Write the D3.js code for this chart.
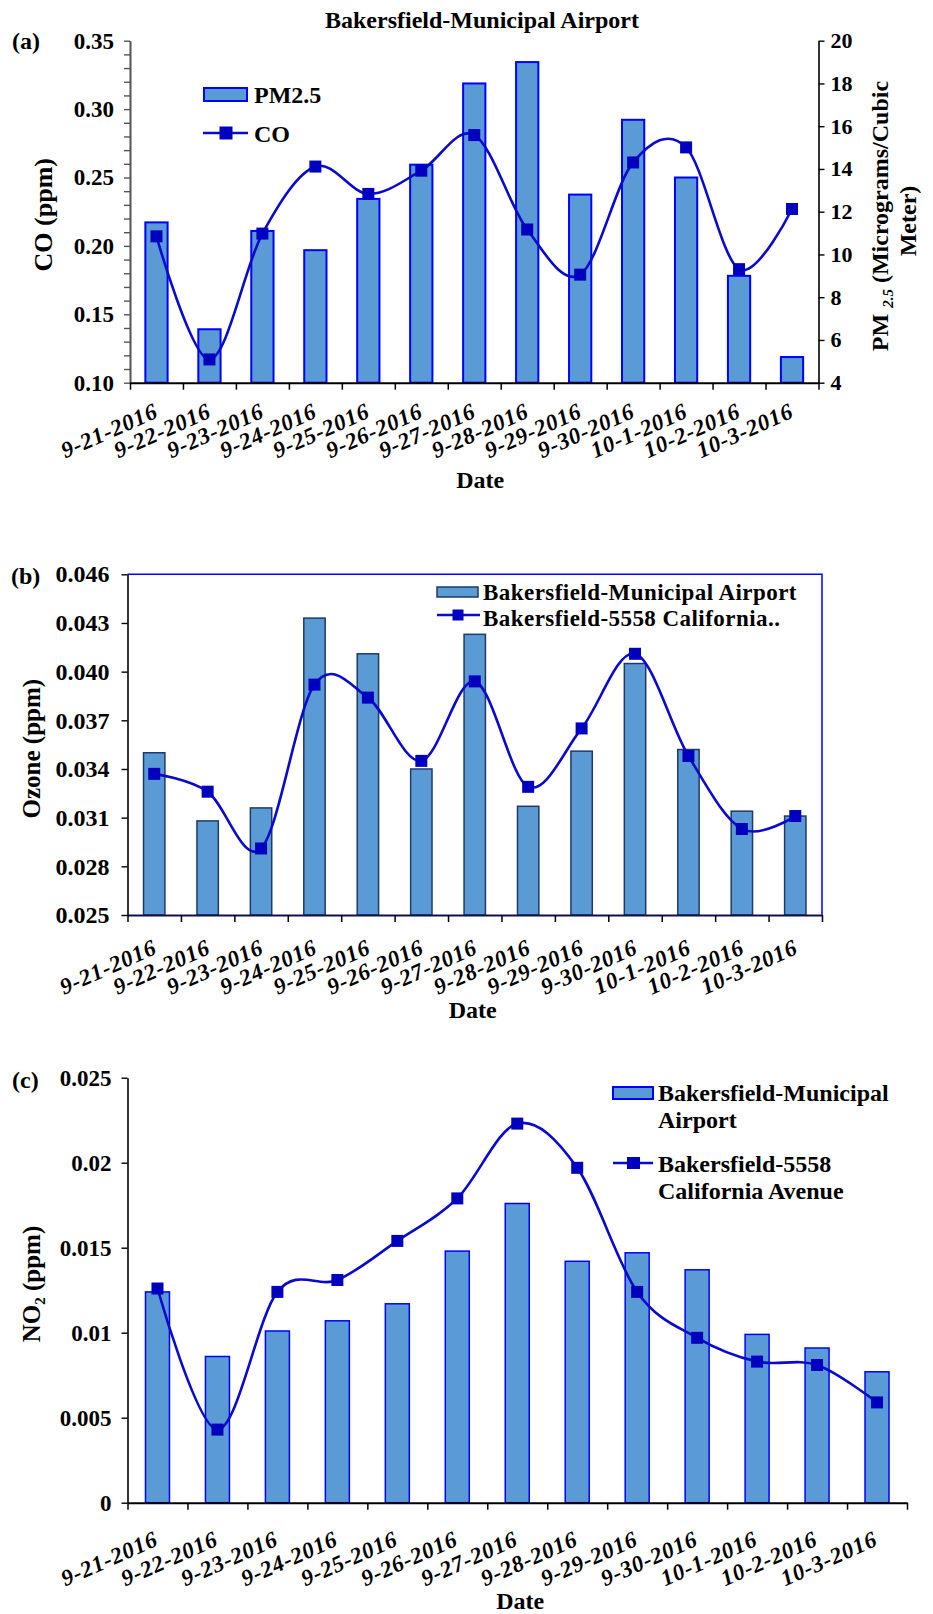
<!DOCTYPE html>
<html>
<head>
<meta charset="utf-8">
<script src="https://cdn.jsdelivr.net/npm/d3@7/dist/d3.min.js"></script>
<style>
  html, body { margin: 0; padding: 0; background: #ffffff; }
  svg { display: block; }
  text { font-family: "Liberation Serif", "Times New Roman", serif; font-weight: bold; fill: #000; }
</style>
</head>
<body>
<svg id="chart" width="933" height="1614"></svg>
<script>
// ---- data ----
const dates = ["9-21-2016", "9-22-2016", "9-23-2016", "9-24-2016", "9-25-2016", "9-26-2016",
  "9-27-2016", "9-28-2016", "9-29-2016", "9-30-2016", "10-1-2016", "10-2-2016", "10-3-2016"];

// (a) Bakersfield-Municipal Airport
const pm25 = [11.5, 6.5, 11.1, 10.2, 12.6, 14.2, 18.0, 19.0, 12.8, 16.3, 13.6, 9.0, 5.2];
const co = [0.207, 0.117, 0.209, 0.258, 0.238, 0.255, 0.281, 0.212, 0.179, 0.261, 0.272, 0.183, 0.227];

// (b) ozone
const ozoneAirport = [0.0350, 0.0308, 0.0316, 0.0433, 0.0411, 0.0340, 0.0423, 0.0317, 0.0351, 0.0405, 0.0352, 0.0314, 0.0311];
const ozoneCalifornia = [0.0337, 0.0326, 0.0291, 0.0392, 0.0384, 0.0345, 0.0394, 0.0329, 0.0365, 0.0411, 0.0348, 0.0303, 0.0311];

// (c) nitrogen dioxide
const no2Airport = [0.0124, 0.0086, 0.0101, 0.0107, 0.0117, 0.0148, 0.0176, 0.0142, 0.0147, 0.0137, 0.0099, 0.0091, 0.0077];
const no2California = [0.0126, 0.0043, 0.0124, 0.0131, 0.0154, 0.0179, 0.0223, 0.0197, 0.0124, 0.0097, 0.0083, 0.0081, 0.0059];

// tick values and labels
const coTicks = [0.10, 0.15, 0.20, 0.25, 0.30, 0.35];
const coTickLabels = ["0.10", "0.15", "0.20", "0.25", "0.30", "0.35"];
const coMinorTicks = [0.11, 0.12, 0.13, 0.14, 0.16, 0.17, 0.18, 0.19, 0.21, 0.22, 0.23, 0.24, 0.26, 0.27, 0.28, 0.29, 0.31, 0.32, 0.33, 0.34];
const pmTicks = [4, 6, 8, 10, 12, 14, 16, 18, 20];
const ozoneTicks = [0.025, 0.028, 0.031, 0.034, 0.037, 0.040, 0.043, 0.046];
const ozoneTickLabels = ["0.025", "0.028", "0.031", "0.034", "0.037", "0.040", "0.043", "0.046"];
const no2Ticks = [0, 0.005, 0.01, 0.015, 0.02, 0.025];
const no2TickLabels = ["0", "0.005", "0.01", "0.015", "0.02", "0.025"];

const names = {
  title: "Bakersfield-Municipal Airport",
  pm: "PM2.5",
  co: "CO",
  airport: "Bakersfield-Municipal Airport",
  california: "Bakersfield-5558 California.."
};

// ---- styles ----
const BAR_FILL = "#5B9BD5";
const LINE_COLOR = "#0A0ACC";
const MARKER_COLOR = "#0000BE";

const svg = d3.select("#chart");
svg.append("rect").attr("width", 933).attr("height", 1614).attr("fill", "#fff");

function xScales(x0, x1) {
  const band = d3.scaleBand().domain(dates).range([x0, x1]).padding(0);
  const edges = d3.scaleLinear().domain([0, dates.length]).range([x0, x1]);
  return { band, edges };
}

function drawBars(g, band, y, values, ratio, stroke, strokeW) {
  const w = band.bandwidth() * ratio;
  g.append("g").selectAll("rect").data(values).join("rect")
    .attr("x", (d, i) => band(dates[i]) + (band.bandwidth() - w) / 2)
    .attr("width", w)
    .attr("y", d => y(d))
    .attr("height", d => y.range()[0] - y(d))
    .attr("fill", BAR_FILL)
    .attr("stroke", stroke)
    .attr("stroke-width", strokeW);
}

function drawLine(g, band, y, values) {
  const cx = i => band(dates[i]) + band.bandwidth() / 2;
  const line = d3.line()
    .x((d, i) => cx(i))
    .y(d => y(d))
    .curve(d3.curveCatmullRom.alpha(0));
  g.append("path").datum(values)
    .attr("d", line)
    .attr("fill", "none")
    .attr("stroke", LINE_COLOR)
    .attr("stroke-width", 2.6);
  const s = 12;
  g.append("g").selectAll("rect").data(values).join("rect")
    .attr("x", (d, i) => cx(i) - s / 2)
    .attr("y", d => y(d) - s / 2)
    .attr("width", s).attr("height", s)
    .attr("fill", MARKER_COLOR);
}

function drawXAxis(g, sc, yBot, labelDy, labelDx, color) {
  const ax = d3.axisBottom(sc.edges)
    .tickValues(d3.range(dates.length + 1))
    .tickFormat("")
    .tickSize(7)
    .tickSizeOuter(0);
  const a = g.append("g").attr("transform", `translate(0,${yBot})`).call(ax);
  a.select(".domain").attr("stroke", color).attr("stroke-width", 2);
  a.selectAll(".tick line").attr("stroke", "#000").attr("stroke-width", 1.5);
  g.append("g").selectAll("text").data(dates).join("text")
    .attr("transform", d => `translate(${sc.band(d) + sc.band.bandwidth() / 2 + labelDx},${yBot + labelDy}) rotate(-24)`)
    .attr("text-anchor", "end")
    .style("font-size", "23px")
    .style("font-style", "italic")
    .style("letter-spacing", "0.8px")
    .text(d => d);
}

function styleYAxis(a, color, size) {
  a.select(".domain").attr("stroke", color).attr("stroke-width", 1.6);
  a.selectAll(".tick line").attr("stroke", color).attr("stroke-width", 1.4);
  a.selectAll(".tick text").style("font-size", (size || 23) + "px").style("font-family", "'Liberation Serif', serif").style("font-weight", "bold").attr("fill", "#000");
}

function rotatedLabel(g, x, y, size) {
  return g.append("text")
    .attr("transform", `translate(${x},${y}) rotate(-90)`)
    .attr("text-anchor", "middle")
    .attr("dy", "0.35em")
    .style("font-size", size + "px");
}

// ================= (a) =================
(function () {
  const x0 = 130, x1 = 818.5, yTop = 40.7, yBot = 382.7;
  const g = svg.append("g");
  const sc = xScales(x0, x1);
  const yL = d3.scaleLinear().domain([0.10, 0.35]).range([yBot, yTop]);
  const yR = d3.scaleLinear().domain([4, 20]).range([yBot, yTop]);

  drawBars(g, sc.band, yR, pm25, 0.42, "#0000FF", 2);
  drawLine(g, sc.band, yL, co);

  const minor = g.append("g").attr("transform", `translate(${x0},0)`)
    .call(d3.axisLeft(yL).tickValues(coMinorTicks).tickFormat("").tickSize(6).tickSizeOuter(0));
  styleYAxis(minor, "#555");
  const left = g.append("g").attr("transform", `translate(${x0},0)`)
    .call(d3.axisLeft(yL).tickValues(coTicks).tickFormat((d, i) => coTickLabels[i]).tickSize(6).tickPadding(10).tickSizeOuter(0));
  styleYAxis(left, "#555");
  const right = g.append("g").attr("transform", `translate(${x1},0)`)
    .call(d3.axisRight(yR).tickValues(pmTicks).tickSize(6).tickPadding(6).tickSizeOuter(0));
  styleYAxis(right, "#000", 22);

  drawXAxis(g, sc, yBot, 34, 3, "#000");

  g.append("text").attr("x", 482).attr("y", 28).attr("text-anchor", "middle")
    .style("font-size", "24px").text(names.title);
  g.append("text").attr("x", 12).attr("y", 49).style("font-size", "24px").text("(a)");

  rotatedLabel(g, 43, (yTop + yBot) / 2 + 3, 26).text("CO (ppm)");
  const r1 = rotatedLabel(g, 880, 216, 24);
  r1.append("tspan").text("PM ");
  r1.append("tspan").style("font-size", "15px").style("font-style", "italic").attr("dy", "5").text("2.5");
  r1.append("tspan").attr("dy", "-5").text(" (Micrograms/Cubic");
  rotatedLabel(g, 908, 221, 24).text("Meter)");

  g.append("text").attr("x", (x0 + x1) / 2 + 6).attr("y", 488).attr("text-anchor", "middle")
    .style("font-size", "24px").text("Date");

  // legend
  const lg = g.append("g");
  lg.append("rect").attr("x", 204).attr("y", 88).attr("width", 43).attr("height", 13)
    .attr("fill", BAR_FILL).attr("stroke", "#0000FF").attr("stroke-width", 2);
  lg.append("text").attr("x", 254).attr("y", 103).style("font-size", "24px").text(names.pm);
  lg.append("line").attr("x1", 203).attr("x2", 248).attr("y1", 133).attr("y2", 133)
    .attr("stroke", LINE_COLOR).attr("stroke-width", 2.6);
  lg.append("rect").attr("x", 219.5).attr("y", 126.5).attr("width", 13).attr("height", 13).attr("fill", MARKER_COLOR);
  lg.append("text").attr("x", 254).attr("y", 142).style("font-size", "24px").text(names.co);
})();

// ================= (b) =================
(function () {
  const x0 = 127.5, x1 = 822, yTop = 574.3, yBot = 915;
  const g = svg.append("g");
  const sc = xScales(x0, x1);
  const y = d3.scaleLinear().domain([0.025, 0.046]).range([yBot, yTop]);

  // plot frame, top and right edges
  g.append("path").attr("d", `M${x0},${yTop}H${x1}V${yBot}`)
    .attr("fill", "none").attr("stroke", "#0000FF").attr("stroke-width", 1.5);

  drawBars(g, sc.band, y, ozoneAirport, 0.40, "#1F3A68", 1.5);
  drawLine(g, sc.band, y, ozoneCalifornia);

  const left = g.append("g").attr("transform", `translate(${x0},0)`)
    .call(d3.axisLeft(y).tickValues(ozoneTicks).tickFormat((d, i) => ozoneTickLabels[i]).tickSize(6).tickPadding(12).tickSizeOuter(0));
  styleYAxis(left, "#000", 24);

  drawXAxis(g, sc, yBot, 38, 4, "#10104A");

  g.append("text").attr("x", 11).attr("y", 584).style("font-size", "24px").text("(b)");
  rotatedLabel(g, 31, (yTop + yBot) / 2 + 4, 25).text("Ozone (ppm)");
  g.append("text").attr("x", (x0 + x1) / 2 - 2).attr("y", 1018).attr("text-anchor", "middle")
    .style("font-size", "24px").text("Date");

  const lg = g.append("g");
  lg.append("rect").attr("x", 437).attr("y", 587).attr("width", 41).attr("height", 10)
    .attr("fill", BAR_FILL).attr("stroke", "#1F3A68").attr("stroke-width", 1.5);
  lg.append("text").attr("x", 483).attr("y", 599.5).style("font-size", "23px").style("letter-spacing", "0.45px").text(names.airport);
  lg.append("line").attr("x1", 437).attr("x2", 480).attr("y1", 615).attr("y2", 615)
    .attr("stroke", LINE_COLOR).attr("stroke-width", 2.6);
  lg.append("rect").attr("x", 452.5).attr("y", 609.5).attr("width", 11).attr("height", 11).attr("fill", MARKER_COLOR);
  lg.append("text").attr("x", 483).attr("y", 625.5).style("font-size", "23px").style("letter-spacing", "0.45px").text(names.california);
})();

// ================= (c) =================
(function () {
  const x0 = 127.5, x1 = 907, yTop = 1077.7, yBot = 1502.7;
  const g = svg.append("g");
  const sc = xScales(x0, x1);
  const y = d3.scaleLinear().domain([0, 0.025]).range([yBot, yTop]);

  drawBars(g, sc.band, y, no2Airport, 0.40, "#0000FF", 1.5);
  drawLine(g, sc.band, y, no2California);

  const left = g.append("g").attr("transform", `translate(${x0},0)`)
    .call(d3.axisLeft(y).tickValues(no2Ticks).tickFormat((d, i) => no2TickLabels[i]).tickSize(6).tickPadding(10).tickSizeOuter(0));
  styleYAxis(left, "#000", 23);

  drawXAxis(g, sc, yBot, 42, 2, "#000");

  g.append("text").attr("x", 12).attr("y", 1088).style("font-size", "24px").text("(c)");
  const nl = rotatedLabel(g, 31, 1284, 25);
  nl.append("tspan").text("NO");
  nl.append("tspan").style("font-size", "15px").attr("dy", "5").text("2");
  nl.append("tspan").attr("dy", "-5").text(" (ppm)");
  g.append("text").attr("x", (x0 + x1) / 2 + 3).attr("y", 1609).attr("text-anchor", "middle")
    .style("font-size", "24px").text("Date");

  const lg = g.append("g");
  lg.append("rect").attr("x", 613).attr("y", 1087).attr("width", 40).attr("height", 12)
    .attr("fill", BAR_FILL).attr("stroke", "#0000FF").attr("stroke-width", 2);
  lg.append("text").attr("x", 658).attr("y", 1101).style("font-size", "24px").text("Bakersfield-Municipal");
  lg.append("text").attr("x", 658).attr("y", 1128).style("font-size", "24px").text("Airport");
  lg.append("line").attr("x1", 613).attr("x2", 653).attr("y1", 1163).attr("y2", 1163)
    .attr("stroke", LINE_COLOR).attr("stroke-width", 2.6);
  lg.append("rect").attr("x", 627).attr("y", 1157).attr("width", 13).attr("height", 12).attr("fill", MARKER_COLOR);
  lg.append("text").attr("x", 658).attr("y", 1172).style("font-size", "24px").text("Bakersfield-5558");
  lg.append("text").attr("x", 658).attr("y", 1199).style("font-size", "24px").text("California Avenue");
})();
</script>
</body>
</html>
